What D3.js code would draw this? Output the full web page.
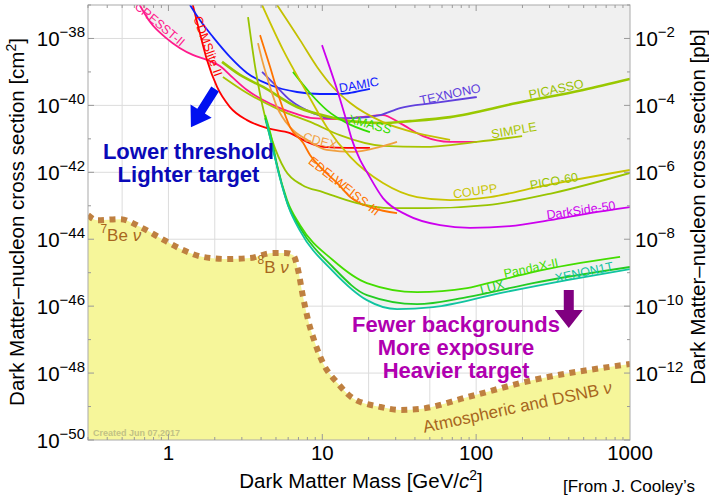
<!DOCTYPE html>
<html>
<head>
<meta charset="utf-8">
<script src="https://cdn.jsdelivr.net/npm/d3@7"></script>
<style>
  body { margin: 0; background: #fff; }
  svg { display: block; font-family: "Liberation Sans", Arial, Helvetica, sans-serif; }
</style>
</head>
<body>
<div id="chart"></div>
<script>
// limit curves: [mass in GeV, log10 of cross section in cm^2]
const cresst = [[0.65,-37.00],[0.76,-37.51],[0.95,-37.96],[1.19,-38.29],[1.44,-38.49],[1.78,-38.64],[2.16,-38.82],[2.63,-39.18],[3.24,-39.54],[4.12,-39.84],[5.31,-40.08],[6.85,-40.26],[8.71,-40.38],[12.5,-40.41],[17.6,-40.35],[24.8,-40.29],[32.0,-40.53],[45.2,-40.92],[67.7,-41.09],[101,-41.09]];
const cdmslite = [[1.44,-37.00],[1.60,-37.84],[1.78,-38.64],[2.07,-39.45],[2.51,-40.05],[3.24,-40.44],[4.37,-40.68],[6.17,-40.83],[7.96,-41.09],[10.1,-41.24],[14.5,-41.27],[20.4,-41.27]];
const damic = [[1.38,-37.00],[1.60,-37.45],[1.95,-37.96],[2.51,-38.55],[3.24,-39.03],[4.58,-39.39],[6.85,-39.60],[9.67,-39.66],[13.0,-39.66],[16.3,-39.60],[20.4,-39.51]];
const texono = [[4.06,-39.00],[4.79,-39.33],[6.17,-39.84],[8.71,-40.23],[11.2,-40.38],[15.8,-40.38],[23.7,-40.29],[32.0,-40.08],[52.5,-39.93],[101,-39.75]];
const picasso = [[2.23,-38.70],[2.92,-39.09],[4.12,-39.45],[6.85,-40.05],[11.2,-40.35],[15.2,-40.47],[24.8,-40.53],[37.2,-40.47],[67.7,-40.35],[184,-39.93],[495,-39.54],[1000,-39.21]];
const simple = [[2.26,-39.15],[3.24,-39.63],[5.31,-40.14],[8.71,-40.53],[13.0,-40.89],[24.8,-41.21],[45.2,-41.24],[101,-41.09],[199,-40.92]];
const xmass = [[6.45,-39.00],[8.32,-39.63],[10.7,-40.14],[14.5,-40.53],[20.4,-40.80]];
const cdex = [[3.82,-38.14],[4.06,-38.64],[4.37,-39.15],[5.08,-40.05],[6.17,-40.65],[7.96,-41.03],[10.7,-41.33],[15.8,-41.39],[23.7,-41.24],[30.6,-41.09]];
const edelweiss = [[3.94,-37.90],[4.58,-38.85],[5.31,-39.84],[6.17,-40.65],[7.50,-41.12],[8.32,-41.48],[9.67,-41.84],[12.5,-42.32],[15.2,-42.74],[21.4,-43.07],[30.6,-43.22]];
const coupp = [[4.06,-37.00],[5.56,-38.34],[7.96,-39.63],[10.7,-40.65],[15.2,-41.54],[24.8,-42.32],[41.3,-42.74],[67.7,-42.83],[123,-42.74],[249,-42.44],[1000,-41.93]];
const pico2l = [[5.08,-37.00],[7.17,-38.05],[9.25,-38.85],[11.7,-39.45],[15.2,-39.93],[24.8,-40.50],[41.3,-40.83],[67.7,-41.03]];
const pico60 = [[3.29,-37.36],[3.66,-38.85],[4.25,-40.35],[4.71,-41.03],[5.73,-41.93],[7.39,-42.38],[10.1,-42.59],[16.8,-42.92],[27.6,-43.07],[48.0,-43.07],[118,-42.98],[316,-42.62],[1000,-42.02]];
const darkside = [[9.96,-38.20],[11.2,-38.88],[12.5,-39.54],[14.5,-40.53],[15.6,-41.03],[17.6,-41.63],[19.5,-41.99],[24.8,-42.77],[35.6,-43.28],[58.3,-43.58],[91.3,-43.66],[166,-43.61],[302,-43.43],[550,-43.22],[1000,-43.04]];
const pandax = [[4.25,-40.29],[4.71,-41.03],[5.08,-41.78],[5.90,-42.83],[7.17,-43.58],[11.7,-44.62],[19.5,-45.31],[41.3,-45.58],[87.3,-45.46],[143,-45.22],[234,-44.98],[862,-44.53]];
const lux = [[4.25,-40.38],[4.71,-41.18],[5.16,-41.93],[5.99,-42.98],[7.17,-43.66],[11.7,-44.83],[19.5,-45.67],[41.3,-45.94],[87.3,-45.73],[234,-45.31],[1000,-44.83]];
const xenon1t = [[4.31,-40.44],[4.79,-41.33],[5.24,-42.08],[6.08,-43.07],[7.17,-43.75],[11.7,-44.95],[19.5,-45.82],[30.6,-46.09],[52.5,-46.03],[143,-45.61],[390,-45.22],[1000,-44.89]];

// neutrino floor
const nuFloor = [[0.30,-43.28],[0.343,-43.43],[0.485,-43.40],[0.654,-43.63],[0.882,-43.96],[1.24,-44.32],[1.68,-44.53],[2.40,-44.59],[3.39,-44.56],[4.79,-44.41],[5.73,-44.41],[6.45,-44.47],[6.96,-44.92],[7.50,-45.73],[8.08,-46.41],[8.97,-47.10],[10.1,-47.70],[12.5,-48.29],[15.8,-48.75],[23.7,-49.01],[32.0,-49.10],[43.2,-49.07],[87.3,-48.72],[234,-48.21],[1000,-47.73]];

// tick labels
const xTicks = [1, 10, 100, 1000];
const yTicksCm = [-38, -40, -42, -44, -46, -48, -50];
const yTicksPb = [-2, -4, -6, -8, -10, -12];

const curveNames = ["CRESST-II","CDMSlite II","DAMIC","TEXNONO","PICASSO","SIMPLE","XMASS","CDEX","EDELWEISS-III","COUPP","PICO-2L","PICO-60","DarkSide-50","PandaX-II","LUX","XENON1T"];
const curveData = [cresst, cdmslite, damic, texono, picasso, simple, xmass, cdex, edelweiss, coupp, pico2l, pico60, darkside, pandax, lux, xenon1t];

const curveColors = {
  "CRESST-II": "#ff1a8c", "CDMSlite II": "#ff0000", "DAMIC": "#1020ff", "TEXNONO": "#6040dd",
  "PICASSO": "#99c800", "SIMPLE": "#a8c400", "XMASS": "#33dd00", "CDEX": "#f0a040",
  "EDELWEISS-III": "#ff7300", "COUPP": "#c8c400", "PICO-2L": "#c4c000", "PICO-60": "#98c400",
  "DarkSide-50": "#cc00ee", "PandaX-II": "#44dd00", "LUX": "#22cc22", "XENON1T": "#10c4a0"
};

// where the names sit: [name, mass, log10 sigma, angle]
const labelSpots = [
  ["CRESST-II", 0.88, -37.57, 40], ["CDMSlite II", 1.81, -38.23, 70], ["DAMIC", 17.3, -39.38, -10],
  ["TEXNONO", 67.7, -39.66, -12], ["PICASSO", 331, -39.51, -12], ["XMASS", 20.4, -40.56, 15],
  ["SIMPLE", 176, -40.74, -10], ["CDEX", 9.67, -41.06, 15], ["EDELWEISS-III", 13.9, -42.41, 38],
  ["COUPP", 98.4, -42.56, -8], ["PICO-60", 320, -42.26, -10], ["DarkSide-50", 480, -43.13, -8],
  ["PandaX-II", 227, -44.86, -12], ["LUX", 127, -45.43, -15], ["XENON1T", 503, -44.98, -12]
];

const W = 709, H = 496;
const plot = { left: 88, right: 630, top: 5, bottom: 440 };

const svg = d3.select("#chart").append("svg")
  .attr("width", W)
  .attr("height", H);

const x = d3.scaleLog().domain([0.3, 1000]).range([plot.left, plot.right]);
const y = d3.scaleLog().domain([1e-50, 1e-37]).range([plot.bottom, plot.top]);
const px = d => x(d[0]);
const py = d => y(Math.pow(10, d[1]));

svg.append("defs").append("clipPath").attr("id", "clip")
  .append("rect")
  .attr("x", plot.left).attr("y", plot.top)
  .attr("width", plot.right - plot.left).attr("height", plot.bottom - plot.top);

const g = svg.append("g").attr("clip-path", "url(#clip)");

// grid
[0.5, 1, 2, 5, 10, 20, 50, 100, 200, 500].forEach(v => {
  g.append("line")
    .attr("x1", x(v)).attr("x2", x(v))
    .attr("y1", plot.top).attr("y2", plot.bottom)
    .attr("stroke", "#dcdcdc").attr("stroke-width", 1);
});
[-38, -40, -42, -44, -46, -48].forEach(e => {
  g.append("line")
    .attr("x1", plot.left).attr("x2", plot.right)
    .attr("y1", y(Math.pow(10, e))).attr("y2", y(Math.pow(10, e)))
    .attr("stroke", "#dcdcdc").attr("stroke-width", 1);
});

// excluded region = union of areas above every limit
const areaAbove = d3.area().x(px).y0(plot.top).y1(py).curve(d3.curveMonotoneX);
curveData.forEach(c => {
  g.append("path").attr("d", areaAbove(c)).attr("fill", "#f0f0f0");
});

// neutrino floor fill
const areaBelow = d3.area().x(px).y0(plot.bottom).y1(py).curve(d3.curveMonotoneX);
g.append("path").attr("d", areaBelow(nuFloor)).attr("fill", "#f6f69a");

// limit lines
const line = d3.line().x(px).y(py).curve(d3.curveMonotoneX);
curveData.forEach((c, i) => {
  const name = curveNames[i];
  g.append("path")
    .attr("d", line(c))
    .attr("fill", "none")
    .attr("stroke", curveColors[name])
    .attr("stroke-width", name === "PICASSO" ? 2.6 : 1.8);
});

// neutrino floor dotted line
g.append("path")
  .attr("d", line(nuFloor))
  .attr("fill", "none")
  .attr("stroke", "#bf8040")
  .attr("stroke-width", 6)
  .attr("stroke-dasharray", "6,5.5");

// curve names
labelSpots.forEach(([name, m, e, ang]) => {
  g.append("text")
    .attr("transform", `translate(${x(m)},${y(Math.pow(10, e))}) rotate(${ang})`)
    .attr("text-anchor", "middle")
    .attr("dy", "0.35em")
    .style("font-size", "12.5px")
    .attr("fill", name === "PICASSO" ? "#99c000" : curveColors[name])
    .text(name);
});

// neutrino labels
const nuText = (m, e, ang, sup, main) => {
  const t = g.append("text")
    .attr("transform", `translate(${x(m)},${y(Math.pow(10, e))}) rotate(${ang})`)
    .attr("text-anchor", "middle")
    .attr("dy", "0.35em")
    .attr("fill", "#a8661e")
    .style("font-size", "17px");
  if (sup) t.append("tspan").attr("dy", "-0.5em").style("font-size", "12px").text(sup);
  t.append("tspan").attr("dy", sup ? "0.5em" : null).text(main);
  t.append("tspan").style("font-style", "italic").text("\u03bd");
};
nuText(0.49, -43.99, 0, "7", "Be ");
nuText(4.79, -44.92, 0, "8", "B ");
nuText(185, -49.01, -12, null, "Atmospheric and DSNB ");

g.append("text")
  .attr("x", x(0.323)).attr("y", y(Math.pow(10, -49.88)))
  .attr("fill", "#c2c285")
  .style("font-size", "9px")
  .style("font-weight", "bold")
  .text("Created Jun 07,2017");

// arrows
function arrow(from, to, shaftW, headW, headL, color) {
  const sx = x(from[0]), sy = y(Math.pow(10, from[1]));
  const tx = x(to[0]), ty = y(Math.pow(10, to[1]));
  const len = Math.hypot(tx - sx, ty - sy);
  const ux = (tx - sx) / len, uy = (ty - sy) / len;
  const nx = -uy, ny = ux;
  const bx = tx - ux * headL, by = ty - uy * headL;
  const pts = [
    [sx + nx * shaftW / 2, sy + ny * shaftW / 2],
    [bx + nx * shaftW / 2, by + ny * shaftW / 2],
    [bx + nx * headW / 2, by + ny * headW / 2],
    [tx, ty],
    [bx - nx * headW / 2, by - ny * headW / 2],
    [bx - nx * shaftW / 2, by - ny * shaftW / 2],
    [sx - nx * shaftW / 2, sy - ny * shaftW / 2]
  ];
  g.append("path").attr("d", "M" + pts.join("L") + "Z").attr("fill", color);
}
arrow([2.01, -39.51], [1.40, -40.65], 9, 25, 19, "#0010f0");
arrow([400, -45.52], [400, -46.65], 10, 28, 18, "#800080");

// annotation text
const note = (lines, m, e, color) => {
  lines.forEach((s, i) => {
    g.append("text")
      .attr("x", x(m))
      .attr("y", y(Math.pow(10, e)) + i * 23)
      .attr("text-anchor", "middle")
      .attr("fill", color)
      .style("font-size", "22px")
      .style("font-weight", "bold")
      .text(s);
  });
};
note(["Lower threshold", "Lighter target"], 1.35, -41.59, "#0a0ab8");
note(["Fewer backgrounds", "More exposure", "Heavier target"], 74, -46.77, "#b000b0");

// frame
svg.append("rect")
  .attr("x", plot.left).attr("y", plot.top)
  .attr("width", plot.right - plot.left).attr("height", plot.bottom - plot.top)
  .attr("fill", "none").attr("stroke", "#aaaaaa").attr("stroke-width", 1);

// x ticks (top and bottom, pointing in)
const minorX = [];
[0.1, 1, 10, 100].forEach(d => { for (let k = 1; k < 10; k++) minorX.push(d * k); });
minorX.filter(v => v >= 0.3 && v <= 1000).forEach(v => {
  const major = xTicks.includes(v);
  const len = major ? 6 : 3;
  svg.append("line").attr("x1", x(v)).attr("x2", x(v))
    .attr("y1", plot.bottom).attr("y2", plot.bottom - len).attr("stroke", "#999");
  svg.append("line").attr("x1", x(v)).attr("x2", x(v))
    .attr("y1", plot.top).attr("y2", plot.top + len).attr("stroke", "#999");
});
d3.range(-50, -36).forEach(e => {
  const len = e % 2 === 0 ? 6 : 3;
  const yy = y(Math.pow(10, e));
  svg.append("line").attr("x1", plot.left).attr("x2", plot.left + len)
    .attr("y1", yy).attr("y2", yy).attr("stroke", "#999");
  svg.append("line").attr("x1", plot.right).attr("x2", plot.right - len)
    .attr("y1", yy).attr("y2", yy).attr("stroke", "#999");
});

// tick labels
xTicks.forEach(v => {
  svg.append("text")
    .attr("x", x(v)).attr("y", 460)
    .attr("text-anchor", "middle")
    .style("font-size", "20.5px")
    .text(v);
});
const powLabel = (xx, yy, exp, anchor) => {
  const t = svg.append("text")
    .attr("x", xx).attr("y", yy + 7.5)
    .attr("text-anchor", anchor)
    .style("font-size", "20.5px");
  t.append("tspan").text("10");
  t.append("tspan").attr("dy", -8.5).style("font-size", "15px").text("\u2212" + Math.abs(exp));
};
yTicksCm.forEach(e => powLabel(85, y(Math.pow(10, e)), e, "end"));
yTicksPb.forEach(e => powLabel(635, y(Math.pow(10, e - 36)), e, "start"));

// axis titles
const xt = svg.append("text")
  .attr("x", 361).attr("y", 488)
  .attr("text-anchor", "middle")
  .style("font-size", "20.5px");
xt.append("tspan").text("Dark Matter Mass [GeV/");
xt.append("tspan").style("font-style", "italic").text("c");
xt.append("tspan").attr("dy", -8).style("font-size", "14px").text("2");
xt.append("tspan").attr("dy", 8).text("]");

const yl = svg.append("text")
  .attr("transform", "translate(24,222) rotate(-90)")
  .attr("text-anchor", "middle")
  .style("font-size", "20.5px");
yl.append("tspan").text("Dark Matter\u2013nucleon cross section [cm");
yl.append("tspan").attr("dy", -8).style("font-size", "14px").text("2");
yl.append("tspan").attr("dy", 8).text("]");

svg.append("text")
  .attr("transform", "translate(705,207) rotate(-90)")
  .attr("text-anchor", "middle")
  .style("font-size", "20.5px")
  .text("Dark Matter\u2013nucleon cross section [pb]");

svg.append("text")
  .attr("x", 563).attr("y", 492)
  .style("font-size", "17px")
  .text("[From J. Cooley\u2019s");
</script>
</body>
</html>
